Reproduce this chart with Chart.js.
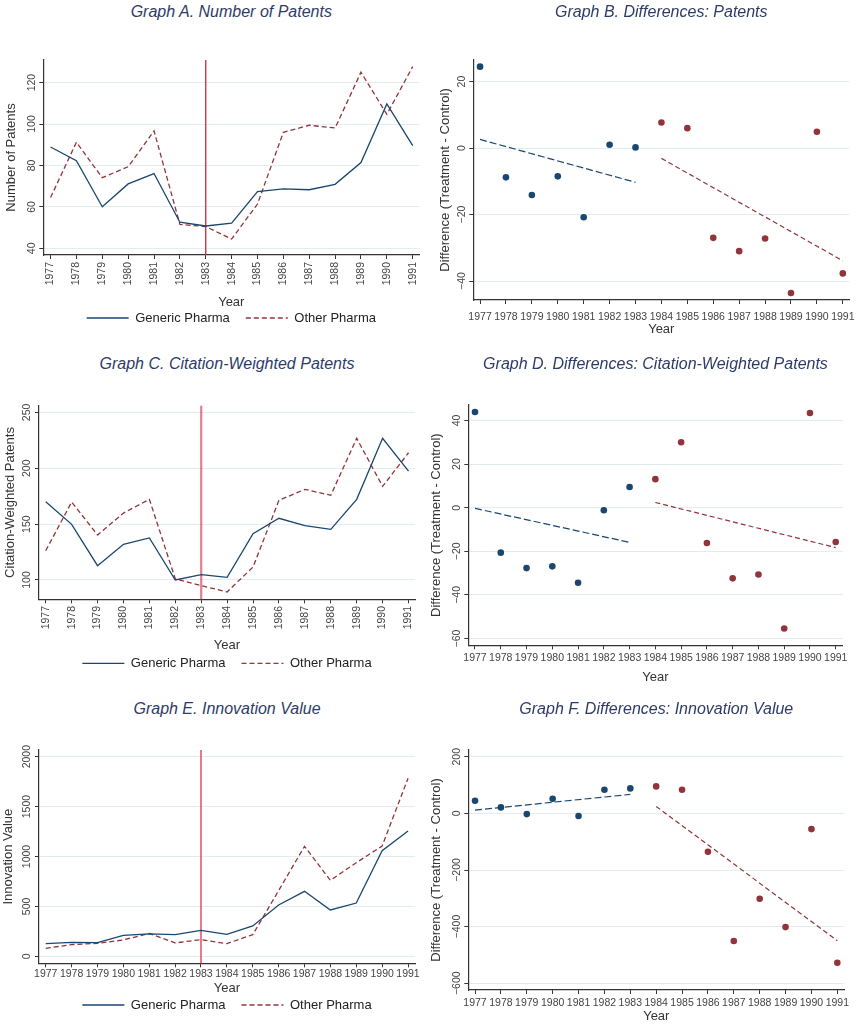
<!DOCTYPE html>
<html>
<head>
<meta charset="utf-8">
<script src="https://cdn.jsdelivr.net/npm/chart.js@4.4.1/dist/chart.umd.min.js"></script>
<style>
  body { margin: 0; background: #fff; width: 865px; height: 1025px; position: relative; overflow: hidden; }
  canvas { position: absolute; }
  .title {
    position: absolute; text-align: center; white-space: nowrap;
    font-family: 'Liberation Sans', Arial, sans-serif; font-style: italic;
    font-size: 16px; line-height: 20px; color: #2e3b67;
  }
</style>
</head>
<body>
<script>
// Data
const years = [1977, 1978, 1979, 1980, 1981, 1982, 1983, 1984, 1985, 1986, 1987, 1988, 1989, 1990, 1991];
const cutoffYear = 1983;
const seriesNames = ['Generic Pharma', 'Other Pharma'];

const patentsGeneric = [88.9, 82.3, 60.1, 71.1, 76.1, 52.6, 50.8, 52.2, 67.4, 68.7, 68.3, 70.9, 81.4, 109.7, 89.6];
const patentsOther   = [64.5, 91.2, 74.1, 79.4, 96.7, 51.6, 50.5, 44.5, 61.4, 96.0, 99.4, 98.1, 125.0, 104.7, 127.7];
const patentsDiff    = [24.5, -8.8, -14.1, -8.5, -20.8, 1.0, 0.2, 7.7, 6.0, -27.0, -31.0, -27.2, -43.6, 4.9, -37.7];
const patentsFitPre  = [2.6, -10.3];
const patentsFitPost = [-3.1, -33.9];

const citesGeneric = [170.1, 149.8, 112.8, 131.9, 137.6, 100.0, 104.8, 102.4, 141.5, 155.2, 148.6, 145.3, 172.2, 226.8, 197.5];
const citesOther   = [126.2, 169.8, 140.3, 159.9, 172.2, 100.9, 94.9, 89.3, 111.6, 171.3, 181.1, 175.8, 226.8, 183.8, 213.9];
const citesDiff    = [43.9, -20.6, -27.7, -26.9, -34.4, -1.2, 9.5, 13.1, 30.0, -16.2, -32.4, -30.6, -55.4, 43.4, -15.7];
const citesFitPre  = [-0.3, -15.9];
const citesFitPost = [2.4, -18.3];

const valueGeneric = [127, 140, 137, 210, 224, 217, 260, 220, 304, 514, 651, 464, 534, 1058, 1255];
const valueOther   = [80, 117, 130, 164, 230, 134, 167, 127, 217, 658, 1102, 761, 938, 1105, 1783];
const valueDiff    = [44.8, 21.2, -2.4, 51.8, -9.4, 83.6, 88.4, 95.4, 83.6, -135.5, -451, -301.6, -401.7, -55.4, -527.8];
const valueFitPre  = [11.8, 67.2];
const valueFitPost = [24.7, -450];

// Tick labels
const patentsTicks = [40, 60, 80, 100, 120];
const patentsDiffTicks = [-40, -20, 0, 20];
const citesTicks = [100, 150, 200, 250];
const citesDiffTicks = [-60, -40, -20, 0, 20, 40];
const valueTicks = [0, 500, 1000, 1500, 2000];
const valueDiffTicks = [-600, -400, -200, 0, 200];

// Styling
const NAVY = '#1a476f';
const MAROON = '#90353b';
const FONT = "'Liberation Sans', Arial, sans-serif";
const TICK_SIZE = 10.5;
const TICK_LH = TICK_SIZE * 1.2;
const LABEL_SIZE = 13;
const LH = LABEL_SIZE * 1.2;

Chart.defaults.font.family = FONT;
Chart.defaults.animation = false;

const measureCtx = document.createElement('canvas').getContext('2d');
function textWidth(t, size) {
    measureCtx.font = size + 'px ' + FONT;
    return measureCtx.measureText(t).width;
}
const fmt = v => v < 0 ? '\u2212' + Math.abs(v) : String(v);
const pts = (xs, ys) => xs.map((x, i) => ({ x: x, y: ys[i] }));

// vertical line at the policy year, drawn through the x scale
const cutoffLine = {
    id: 'cutoffLine',
    beforeDatasetsDraw(chart, args, opts) {
        const x = chart.scales.x.getPixelForValue(cutoffYear);
        const { top, bottom } = chart.chartArea;
        const ctx = chart.ctx;
        ctx.save();
        ctx.strokeStyle = opts.color;
        ctx.lineWidth = opts.width;
        ctx.beginPath();
        ctx.moveTo(x, top);
        ctx.lineTo(x, bottom);
        ctx.stroke();
        ctx.restore();
    }
};

// legend items keep the dataset dash pattern
function legendLabels(chart) {
    return Chart.defaults.plugins.legend.labels.generateLabels(chart).map(l => {
        const ds = chart.data.datasets[l.datasetIndex];
        return Object.assign(l, {
            lineDash: ds.borderDash || [],
            lineWidth: ds.borderWidth,
            strokeStyle: ds.borderColor,
            fillStyle: ds.borderColor
        });
    });
}

function addTitle(text, left, right, cy) {
    const d = document.createElement('div');
    d.className = 'title';
    d.textContent = text;
    d.style.left = left + 'px';
    d.style.width = (right - left) + 'px';
    d.style.top = (cy - 10) + 'px';
    document.body.appendChild(d);
}

function lineSets(generic, other) {
    return [
        { type: 'line', label: seriesNames[0], data: pts(years, generic), borderColor: NAVY, backgroundColor: NAVY,
          borderWidth: 1.3, pointRadius: 0, tension: 0 },
        { type: 'line', label: seriesNames[1], data: pts(years, other), borderColor: MAROON, backgroundColor: MAROON,
          borderWidth: 1.3, borderDash: [5, 3], pointRadius: 0, tension: 0 }
    ];
}

function diffSets(diff, fitPre, fitPost) {
    const pre = years.slice(0, 7), post = years.slice(7);
    return [
        { type: 'scatter', data: pts(pre, diff.slice(0, 7)), backgroundColor: NAVY, borderWidth: 0, pointRadius: 3.3 },
        { type: 'scatter', data: pts(post, diff.slice(7)), backgroundColor: MAROON, borderWidth: 0, pointRadius: 3.3 },
        { type: 'line', data: pts([pre[0], pre[pre.length - 1]], fitPre), borderColor: NAVY, borderWidth: 1.2,
          borderDash: [7, 3], pointRadius: 0 },
        { type: 'line', data: pts([post[0], post[post.length - 1]], fitPost), borderColor: MAROON, borderWidth: 1.2,
          borderDash: [5, 3], pointRadius: 0 }
    ];
}

function makePanel(p) {
    const canvasTop = Math.floor(p.plotT - 24);
    const legendTop = p.legendY ? p.legendY - 22.5 : null;
    const boxBottom = p.legendY ? legendTop : p.yearY + LH / 2 + 2;
    const contentBottom = p.legendY ? legendTop + 39 : boxBottom;
    const height = Math.ceil(contentBottom + 1 - canvasTop);
    const padBottom = canvasTop + height - contentBottom;
    const xH = boxBottom - p.plotB;
    const yW = p.plotL - p.left;
    const widest = Math.max(...p.yTicks.map(t => textWidth(fmt(t), TICK_SIZE)));
    const yPad = 11.5 - 4 - widest / 2;
    // rotated labels hang from their top; flat labels are placed by their centre
    const xPad = p.rotate ? p.xLabelY - p.plotB - 4 : p.xLabelY - p.plotB - 4 - TICK_LH / 2;

    const cv = document.createElement('canvas');
    cv.width = p.width;
    cv.height = height;
    cv.style.left = p.left + 'px';
    cv.style.top = canvasTop + 'px';
    document.body.appendChild(cv);

    addTitle(p.title, p.plotL, p.plotR, p.titleY);

    const rot = p.rotate ? 90 : 0;
    return new Chart(cv.getContext('2d'), {
        type: 'scatter',
        data: { datasets: p.datasets },
        plugins: p.cutoff ? [cutoffLine] : [],
        options: {
            responsive: false,
            layout: { padding: { top: p.plotT - canvasTop, right: p.left + p.width - p.plotR, bottom: padBottom, left: 0 } },
            plugins: {
                tooltip: { enabled: false },
                cutoffLine: p.cutoff || {},
                legend: p.legendY ? {
                    position: 'bottom',
                    fullSize: false,
                    labels: {
                        usePointStyle: true, pointStyle: 'line', pointStyleWidth: 42,
                        padding: 16, color: '#222', font: { size: LABEL_SIZE },
                        generateLabels: legendLabels
                    }
                } : { display: false }
            },
            scales: {
                x: {
                    type: 'linear', min: p.xMin, max: p.xMax, bounds: 'data',
                    afterBuildTicks: a => { a.ticks = years.map(v => ({ value: v })); },
                    afterFit: s => { s.height = xH; },
                    ticks: {
                        callback: v => String(v), autoSkip: false, minRotation: rot, maxRotation: rot,
                        padding: xPad, color: '#444', font: { size: TICK_SIZE }
                    },
                    grid: { display: true, drawOnChartArea: false, drawTicks: true, tickLength: 4, tickColor: '#333', color: '#333' },
                    border: { display: true, color: '#333', width: 1.2 },
                    title: { display: true, text: 'Year', color: '#333', font: { size: LABEL_SIZE },
                             padding: { top: 0, bottom: boxBottom - p.yearY - LH / 2 } }
                },
                y: {
                    type: 'linear', min: p.yMin, max: p.yMax, bounds: 'data',
                    afterBuildTicks: a => { a.ticks = p.yTicks.map(v => ({ value: v })); },
                    afterFit: s => { s.width = yW; },
                    ticks: {
                        callback: v => fmt(v), minRotation: 90, maxRotation: 90, crossAlign: 'center',
                        padding: yPad, color: '#444', font: { size: TICK_SIZE }
                    },
                    grid: { color: '#e3eded', lineWidth: 1, tickColor: '#333', tickLength: 4 },
                    border: { display: true, color: '#333', width: 1.2 },
                    title: { display: true, text: p.yTitle, color: '#333', font: { size: LABEL_SIZE },
                             padding: { top: p.yTitleX - p.left - LH / 2, bottom: 0 } }
                }
            }
        }
    });
}

const DIFF_TITLE = 'Difference (Treatment - Control)';

makePanel({
    title: 'Graph A. Number of Patents', titleY: 11.5,
    left: 0, width: 432, plotL: 43.3, plotR: 419.3, plotT: 60, plotB: 255,
    rotate: true, xLabelY: 262, yearY: 302, legendY: 318, yTitleX: 11.7,
    xMin: 1976.72, xMax: 1991.255, yMin: 36.8, yMax: 130.9, yTicks: patentsTicks,
    yTitle: 'Number of Patents', cutoff: { color: '#c9283e', width: 1.3 },
    datasets: lineSets(patentsGeneric, patentsOther)
});

makePanel({
    title: 'Graph B. Differences: Patents', titleY: 11.5,
    left: 424, width: 441, plotL: 473.3, plotR: 849.3, plotT: 60, plotB: 300,
    rotate: false, xLabelY: 316.7, yearY: 329.3, yTitleX: 445,
    xMin: 1976.74, xMax: 1991.25, yMin: -45.7, yMax: 26.5, yTicks: patentsDiffTicks,
    yTitle: DIFF_TITLE,
    datasets: diffSets(patentsDiff, patentsFitPre, patentsFitPost)
});

makePanel({
    title: 'Graph C. Citation-Weighted Patents', titleY: 364,
    left: 0, width: 432, plotL: 39, plotR: 415, plotT: 405.7, plotB: 599.3,
    rotate: true, xLabelY: 606, yearY: 645, legendY: 663.3, yTitleX: 10,
    xMin: 1976.74, xMax: 1991.25, yMin: 82.7, yMax: 256, yTicks: citesTicks,
    yTitle: 'Citation-Weighted Patents', cutoff: { color: 'rgba(214,70,100,0.7)', width: 2.2 },
    datasets: lineSets(citesGeneric, citesOther)
});

makePanel({
    title: 'Graph D. Differences: Citation-Weighted Patents', titleY: 364,
    left: 424, width: 441, plotL: 468.3, plotR: 842.7, plotT: 405, plotB: 645.3,
    rotate: false, xLabelY: 658.3, yearY: 677.3, yTitleX: 436,
    xMin: 1976.74, xMax: 1991.27, yMin: -63.1, yMax: 47.1, yTicks: citesDiffTicks,
    yTitle: DIFF_TITLE,
    datasets: diffSets(citesDiff, citesFitPre, citesFitPost)
});

makePanel({
    title: 'Graph E. Innovation Value', titleY: 709,
    left: 0, width: 432, plotL: 39, plotR: 415, plotT: 750, plotB: 963.3,
    rotate: false, xLabelY: 974, yearY: 988.3, legendY: 1005, yTitleX: 8.3,
    xMin: 1976.74, xMax: 1991.27, yMin: -70, yMax: 2067, yTicks: valueTicks,
    yTitle: 'Innovation Value', cutoff: { color: '#e0334d', width: 1.3 },
    datasets: lineSets(valueGeneric, valueOther)
});

makePanel({
    title: 'Graph F. Differences: Innovation Value', titleY: 709,
    left: 424, width: 441, plotL: 468.3, plotR: 844.3, plotT: 750, plotB: 990,
    rotate: false, xLabelY: 1003.3, yearY: 1016.7, yTitleX: 436,
    xMin: 1976.74, xMax: 1991.27, yMin: -624, yMax: 224, yTicks: valueDiffTicks,
    yTitle: DIFF_TITLE,
    datasets: diffSets(valueDiff, valueFitPre, valueFitPost)
});
</script>
</body>
</html>
